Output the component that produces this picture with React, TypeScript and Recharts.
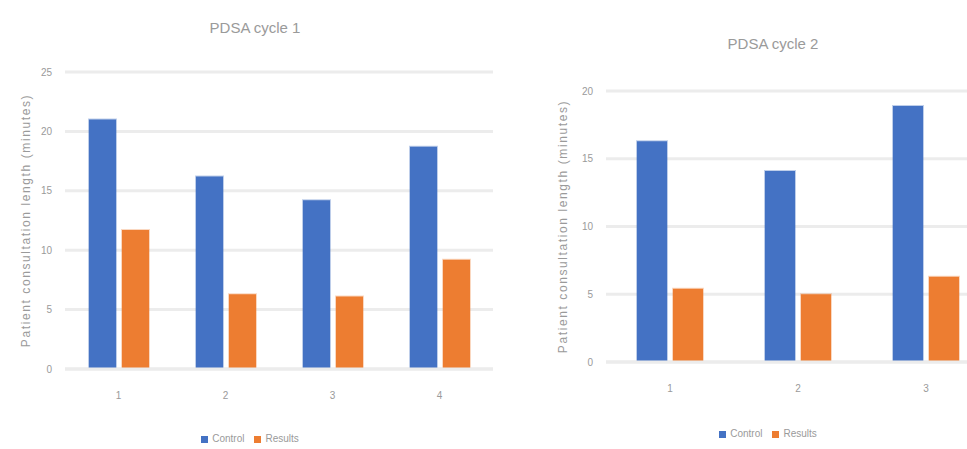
import React from 'react';
import { BarChart, Bar, XAxis, YAxis, CartesianGrid, Legend } from 'recharts';

// PDSA cycle 1
const cycle1Categories = ['1', '2', '3', '4'];
const cycle1Control = [21.0, 16.2, 14.2, 18.7];
const cycle1Results = [11.7, 6.3, 6.1, 9.2];
const cycle1Ticks = [0, 5, 10, 15, 20, 25];

// PDSA cycle 2
const cycle2Categories = ['1', '2', '3'];
const cycle2Control = [16.3, 14.1, 18.9];
const cycle2Results = [5.4, 5.0, 6.3];
const cycle2Ticks = [0, 5, 10, 15, 20];

const yLabel = 'Patient consultation length (minutes)';

const BLUE = '#4472C4';
const ORANGE = '#ED7D31';
const TEXT = '#9a9a9a';
const FONT = '"Liberation Sans", Arial, sans-serif';

const buildRows = (cats: string[], control: number[], results: number[]) =>
  cats.map((c, i) => ({ name: c, Control: control[i], Results: results[i] }));

interface PanelProps {
  title: string;
  rows: { name: string; Control: number; Results: number }[];
  ticks: number[];
  left: number;
  width: number;
  margin: { top: number; right: number; bottom: number; left: number };
  yAxisWidth: number;
  catGap: number;
  titleX: number;
  titleY: number;
  legendTop: number;
  labelOffset: number;
  tickDy: number;
}

const Panel: React.FC<PanelProps> = (p) => (
  <div style={{ position: 'absolute', left: p.left, top: 0, width: p.width, height: 449 }}>
    <div
      style={{
        position: 'absolute',
        left: p.titleX - 100,
        width: 200,
        top: p.titleY - 10,
        textAlign: 'center',
        fontSize: 15,
        color: TEXT,
        fontFamily: FONT,
        lineHeight: '20px',
      }}
    >
      {p.title}
    </div>
    <BarChart
      width={p.width}
      height={449}
      data={p.rows}
      margin={p.margin}
      barGap={6}
      barCategoryGap={p.catGap}
      style={{ fontFamily: FONT }}
    >
      <CartesianGrid vertical={false} stroke="#ececec" strokeWidth={3} />
      <XAxis
        dataKey="name"
        height={30}
        axisLine={{ stroke: '#ececec', strokeWidth: 3 }}
        tickLine={false}
        tick={{ fill: TEXT, fontSize: 10 }}
        tickMargin={p.tickDy}
      />
      <YAxis
        width={p.yAxisWidth}
        domain={[0, p.ticks[p.ticks.length - 1]]}
        ticks={p.ticks}
        axisLine={false}
        tickLine={false}
        tickSize={0}
        tickMargin={13}
        tick={{ fill: TEXT, fontSize: 10 }}
        label={{
          value: yLabel,
          angle: -90,
          position: 'insideLeft',
          offset: p.labelOffset,
          style: { textAnchor: 'middle', fill: TEXT, fontSize: 12, letterSpacing: 1.6 },
        }}
      />
      <Legend
        verticalAlign="middle"
        align="center"
        layout="horizontal"
        iconType="square"
        iconSize={7}
        wrapperStyle={{ top: p.legendTop, left: 0, width: p.titleX * 2, fontSize: 10, color: TEXT }}
        formatter={(v: string) => <span style={{ color: TEXT }}>{v}</span>}
      />
      <Bar dataKey="Control" fill={BLUE} stroke="rgba(68,114,196,0.35)" strokeWidth={2} isAnimationActive={false} />
      <Bar dataKey="Results" fill={ORANGE} stroke="rgba(237,125,49,0.3)" strokeWidth={2} isAnimationActive={false} />
    </BarChart>
  </div>
);

export default function App() {
  return (
    <div
      style={{
        position: 'fixed',
        left: 0,
        top: 0,
        width: 967,
        height: 449,
        overflow: 'hidden',
        background: '#ffffff',
      }}
    >
      <Panel
        title="PDSA cycle 1"
        rows={buildRows(cycle1Categories, cycle1Control, cycle1Results)}
        ticks={cycle1Ticks}
        left={0}
        width={510}
        margin={{ top: 72, right: 17, bottom: 50, left: 0 }}
        yAxisWidth={65}
        catGap={24}
        titleX={255}
        titleY={28}
        legendTop={433}
        labelOffset={26}
        tickDy={17}
      />
      <Panel
        title="PDSA cycle 2"
        rows={buildRows(cycle2Categories, cycle2Control, cycle2Results)}
        ticks={cycle2Ticks}
        left={545}
        width={460}
        margin={{ top: 91, right: 15, bottom: 57, left: 0 }}
        yAxisWidth={61}
        catGap={31}
        titleX={228}
        titleY={44}
        legendTop={428}
        labelOffset={18}
        tickDy={17}
      />
    </div>
  );
}
